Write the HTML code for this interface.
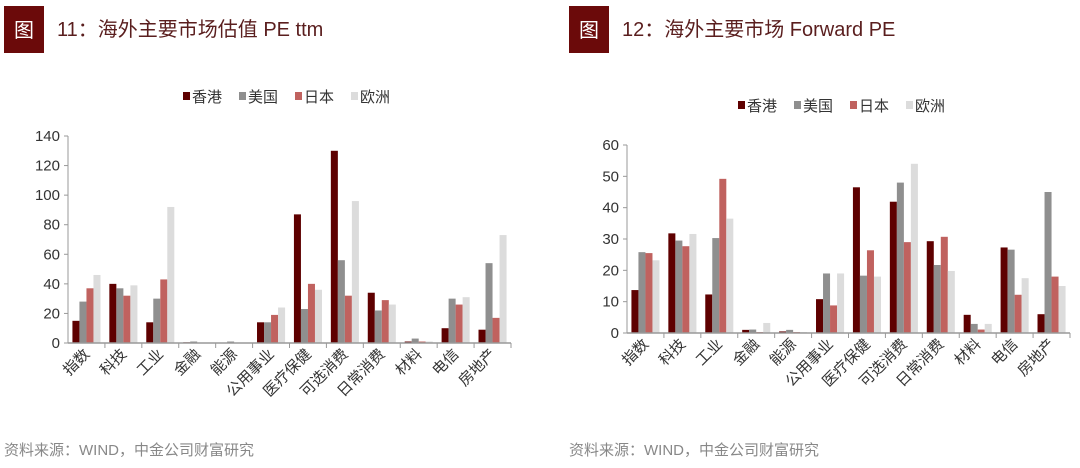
<!DOCTYPE html>
<html><head><meta charset="utf-8"><style>
body{margin:0;background:#fff;width:1080px;height:463px;overflow:hidden}
svg text{font-family:"Liberation Sans","Noto Sans CJK SC",sans-serif}
</style></head><body>
<svg id="s" width="1080" height="463">
<g>
<rect x="4" y="6" width="40" height="47" fill="#6b0a0a"/>
<text x="24" y="37" fill="#fff" font-size="20" text-anchor="middle">图</text>
<text x="57" y="36" fill="#5a1e1e" font-size="20">11：海外主要市场估值 PE ttm</text>
</g>
<g>
<rect x="569" y="6" width="40" height="47" fill="#6b0a0a"/>
<text x="589" y="37" fill="#fff" font-size="20" text-anchor="middle">图</text>
<text x="622" y="36" fill="#5a1e1e" font-size="20">12：海外主要市场 Forward PE</text>
</g>
<text x="4" y="455" fill="#888" font-size="15">资料来源：WIND，中金公司财富研究</text>
<text x="569" y="455" fill="#888" font-size="15">资料来源：WIND，中金公司财富研究</text>
</svg>
<script>
const categories=["指数","科技","工业","金融","能源","公用事业","医疗保健","可选消费","日常消费","材料","电信","房地产"];
const seriesNames=["香港","美国","日本","欧洲"];
const leftHK=[15,40,14,0.5,0.2,14,87,130,34,1,10,9];
const leftUS=[28,37,30,1,1,14,23,56,22,3,30,54];
const leftJP=[37,32,43,0.3,0.3,19,40,32,29,1,26,17];
const leftEU=[46,39,92,0.2,0.3,24,36,96,26,1,31,73];
const leftTicks=[0,20,40,60,80,100,120,140];
const rightHK=[13.7,31.8,12.3,1,0.5,10.8,46.5,41.9,29.3,5.8,27.3,6];
const rightUS=[25.8,29.5,30.3,1.1,1,19,18.3,48,21.7,2.9,26.6,45];
const rightJP=[25.5,27.7,49.2,0.3,0.3,8.8,26.4,29,30.7,1.1,12.2,18];
const rightEU=[23.2,31.6,36.5,3.2,0.3,19,18,54,19.8,2.9,17.5,15];
const rightTicks=[0,10,20,30,40,50,60];
const colors=["#5e0000","#8f8f8f","#c0625f","#dcdcdc"];
const svg=document.getElementById('s');
const NS="http://www.w3.org/2000/svg";
function mk(t,a,p){const e=document.createElementNS(NS,t);for(const k in a)e.setAttribute(k,a[k]);(p||svg).appendChild(e);return e;}
function chart(pfx,x0,x1,y0,yTop,maxV,ticks,series,legX,legY){
  const g=mk('g',{});
  
  
  const ys=v=>y0-(v/maxV)*(y0-yTop);
  const cw=(x1-x0)/categories.length;
  const bw=cw*0.19;
  mk('line',{x1:x0,y1:yTop,x2:x0,y2:y0,stroke:'#999','stroke-width':1},g);
  ticks.forEach(t=>{
    mk('line',{x1:x0-4,y1:ys(t),x2:x0,y2:ys(t),stroke:'#999'},g);
    const tx=mk('text',{x:x0-8,y:ys(t)+5,'font-size':15,fill:'#333','text-anchor':'end'},g);
    tx.textContent=t;
    
    
  });
  categories.forEach((c,i)=>{
    const cx=x0+cw*i;
    series.forEach((s,j)=>{
      const v=s[i];
      const r=mk('rect',{x:cx+cw*0.12+j*bw,y:ys(v),width:bw,height:y0-ys(v),fill:colors[j]},g);
      
      
    });
    mk('line',{x1:cx+cw,y1:y0,x2:cx+cw,y2:y0+5,stroke:'#999'},g);
    const mx=cx+cw/2+4,my=y0+12;
    const tx=mk('text',{x:mx,y:my,'font-size':15,fill:'#333','text-anchor':'end',transform:`rotate(-45 ${mx} ${my})`},g);
    tx.textContent=c;
    
    
  });
  mk('line',{x1:x0,y1:y0,x2:x1,y2:y0,stroke:'#999','stroke-width':1.5},g);
  let lx=legX;
  seriesNames.forEach((n,j)=>{
    mk('rect',{x:lx,y:legY-10,width:7,height:8,fill:colors[j]},g);
    const tx=mk('text',{x:lx+9,y:legY,'font-size':15,fill:'#333'},g);
    tx.textContent=n;
    
    
    lx+=56;
  });
}
chart('left',68,511,343,136,140,leftTicks,[leftHK,leftUS,leftJP,leftEU],183,102);
chart('right',627,1070,333,145,60,rightTicks,[rightHK,rightUS,rightJP,rightEU],738,111);
</script>
</body></html>
